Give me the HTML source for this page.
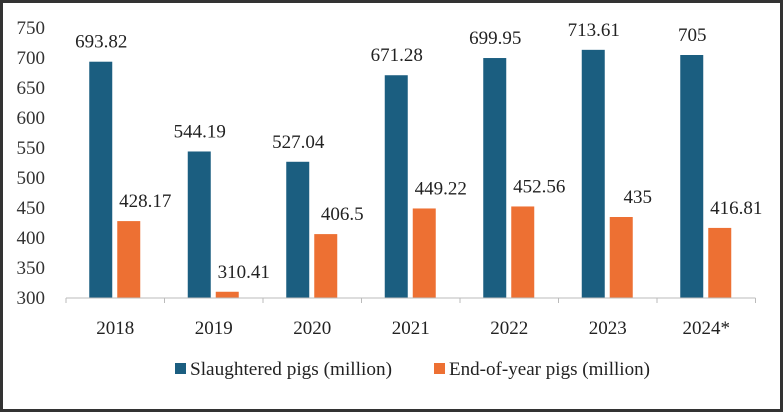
<!DOCTYPE html>
<html><head><meta charset="utf-8"><style>
html,body{margin:0;padding:0;background:#fff}
svg{display:block;font-family:"Liberation Serif",serif}
</style></head><body>
<svg width="783" height="412">
<rect x="1.5" y="1.5" width="780" height="409" fill="#fff" stroke="#333" stroke-width="3"/>
<g id="yaxis"></g>
<g id="bars"></g>
<g id="xaxis"></g>
<g>
<rect x="175" y="363" width="11" height="11" fill="#1b5e80"/>
<text x="190" y="375" font-size="19" textLength="202" lengthAdjust="spacingAndGlyphs" fill="#222">Slaughtered pigs (million)</text>
<rect x="434" y="363" width="11" height="11" fill="#ed7033"/>
<text x="449" y="375" font-size="19" textLength="201" lengthAdjust="spacingAndGlyphs" fill="#222">End-of-year pigs (million)</text>
</g>
</svg>
<script>
const categories=["2018","2019","2020","2021","2022","2023","2024*"];
const slaughtered=[693.82,544.19,527.04,671.28,699.95,713.61,705];
const endOfYear=[428.17,310.41,406.5,449.22,452.56,435,416.81];
const yTicks=[300,350,400,450,500,550,600,650,700,750];
const NS="http://www.w3.org/2000/svg";
const x0=66,bw=98.5,yBase=298,yMin=300,pxPer=0.6;
const y=v=>yBase-(v-yMin)*pxPer;
const cx=i=>x0+bw*(i+0.5);
function mk(t,a,p){const e=document.createElementNS(NS,t);for(const k in a)e.setAttribute(k,a[k]);p.appendChild(e);return e;}
const ya=document.getElementById('yaxis'),ba=document.getElementById('bars'),xa=document.getElementById('xaxis');
yTicks.forEach(v=>{const t=mk('text',{x:45,y:y(v)+6,'text-anchor':'end','font-size':19,fill:'#333'},ya);t.textContent=v;

});
const ax=mk('line',{x1:x0,x2:x0+bw*categories.length,y1:yBase,y2:yBase,stroke:'#bbb'},xa);


for(let i=0;i<=categories.length;i++){const l=mk('line',{x1:x0+bw*i,x2:x0+bw*i,y1:yBase,y2:yBase+5,stroke:'#bbb'},xa);

}
categories.forEach((c,i)=>{
const t=mk('text',{x:cx(i),y:334,'text-anchor':'middle','font-size':19,fill:'#222'},xa);t.textContent=c;


const b1=mk('rect',{x:cx(i)-26,y:y(slaughtered[i]),width:23,height:yBase-y(slaughtered[i]),fill:'#1b5e80'},ba);


const b2=mk('rect',{x:cx(i)+2,y:y(endOfYear[i]),width:23,height:yBase-y(endOfYear[i]),fill:'#ed7033'},ba);


const l1=mk('text',{x:cx(i)-14,y:y(slaughtered[i])-14,'text-anchor':'middle','font-size':19,fill:'#222'},ba);l1.textContent=slaughtered[i];


const l2=mk('text',{x:cx(i)+30,y:y(endOfYear[i])-14,'text-anchor':'middle','font-size':19,fill:'#222'},ba);l2.textContent=endOfYear[i];


});
</script>
</body></html>
